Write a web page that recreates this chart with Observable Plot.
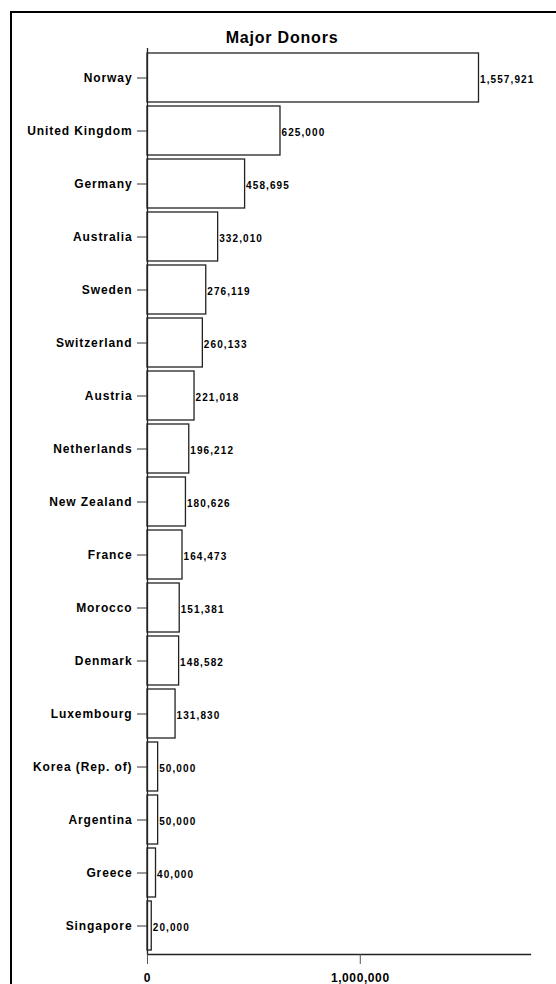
<!DOCTYPE html>
<html>
<head>
<meta charset="utf-8">
<script src="https://cdn.jsdelivr.net/npm/d3@7"></script>
<script src="https://cdn.jsdelivr.net/npm/@observablehq/plot@0.6"></script>
<style>
  html, body { margin: 0; padding: 0; background: #fff; }
  #wrap { position: relative; width: 556px; height: 984px; overflow: hidden; background: #fff; }
  #frame { position: absolute; left: 10px; top: 11px; width: 700px; height: 1100px;
           border-left: 2px solid #000; border-top: 2px solid #000; box-sizing: border-box; }
  #title { position: absolute; left: 0; top: 30px; width: 564px; text-align: center;
           font: bold 16px "Liberation Sans", Arial, sans-serif; line-height: 16px;
           letter-spacing: 0.8px; color: #000; }
  #chart { position: absolute; left: 0; top: 0; }
  .cat-axis text { letter-spacing: 0.9px; }
  .val-axis text { letter-spacing: 0.6px; }
  .bar-values text { letter-spacing: 1.1px; }
</style>
</head>
<body>
<div id="wrap">
  <div id="frame"></div>
  <div id="chart"></div>
  <div id="title">Major Donors</div>
</div>
<script>
// Donor countries, largest first, and their contributions
const countries = [
  "Norway", "United Kingdom", "Germany", "Australia", "Sweden", "Switzerland",
  "Austria", "Netherlands", "New Zealand", "France", "Morocco", "Denmark",
  "Luxembourg", "Korea (Rep. of)", "Argentina", "Greece", "Singapore"
];
const amounts = [
  1557921, 625000, 458695, 332010, 276119, 260133,
  221018, 196212, 180626, 164473, 151381, 148582,
  131830, 50000, 50000, 40000, 20000
];
const xDomain = [0, 1800000];
const xTicks = [0, 1000000];

const donors = countries.map((country, i) => ({country, amount: amounts[i]}));
const fmt = d3.format(",");
const font = "'Liberation Sans', Arial, Helvetica, sans-serif";

const chart = Plot.plot({
  width: 556,
  height: 984,
  marginLeft: 147,
  marginRight: 26,
  marginTop: 48,
  marginBottom: 30,
  style: {fontFamily: font, color: "#000", background: "transparent"},
  x: {domain: xDomain, label: null},
  y: {domain: countries, paddingInner: 0.08, paddingOuter: 0.04, label: null},
  marks: [
    Plot.barX(donors, {
      x: "amount", y: "country",
      fill: "#fff", stroke: "#222", strokeWidth: 1.3
    }),
    Plot.text(donors, {
      x: "amount", y: "country",
      text: d => fmt(d.amount),
      textAnchor: "start", dx: 1, dy: 2,
      fontSize: 10, fontWeight: "bold", fill: "#000",
      className: "bar-values"
    }),
    Plot.ruleX([0], {stroke: "#222", strokeWidth: 1.3}),
    Plot.frame({anchor: "bottom", stroke: "#222", strokeWidth: 1.3}),
    Plot.axisY({
      tickSize: 10, tickPadding: 5, fontSize: 12, fontWeight: "bold",
      stroke: "#333", className: "cat-axis", label: null
    }),
    Plot.axisX({
      ticks: xTicks, tickFormat: fmt, tickSize: 10, tickPadding: 9,
      fontSize: 12, fontWeight: "bold", stroke: "#555",
      className: "val-axis", label: null
    })
  ]
});

document.getElementById("chart").appendChild(chart);
</script>
</body>
</html>
